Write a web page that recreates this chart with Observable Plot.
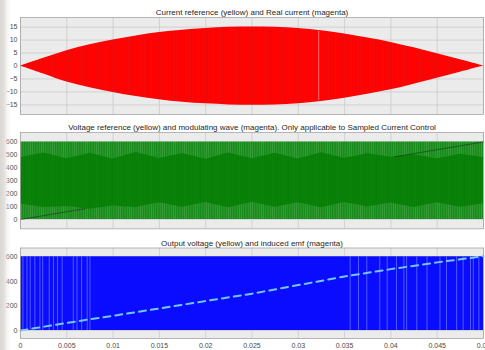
<!DOCTYPE html>
<html>
<head>
<meta charset="utf-8">
<script src="https://cdn.jsdelivr.net/npm/d3@7"></script>
<script src="https://cdn.jsdelivr.net/npm/@observablehq/plot@0.6"></script>
<style>
  html, body { margin: 0; padding: 0; background: #fff; }
  #scope { position: relative; width: 485px; height: 350px; overflow: hidden; background: #fff; }
  #scope svg { position: absolute; left: 0; }
  #edge {
    position: absolute; left: 0; top: 0; width: 12px; height: 350px; pointer-events: none;
    background: linear-gradient(to right, rgba(218,214,210,1) 0px, rgba(224,221,218,0.95) 4px,
                rgba(236,234,232,0.5) 7px, rgba(255,255,255,0) 11px);
  }
</style>
</head>
<body>
<div id="scope"><div id="edge"></div></div>
<script>
// Time axis shared by all three scope traces (seconds)
const xTicks = [0, 0.005, 0.01, 0.015, 0.02, 0.025, 0.03, 0.035, 0.04, 0.045, 0.05];
const tSpan = [0, 0.05];

// --- Panel 1: current envelope (A) ---
const currentTitle = "Current reference (yellow) and Real current (magenta)";
const currentT = [0, 0.0025, 0.005, 0.0075, 0.01, 0.0125, 0.015, 0.0175, 0.02, 0.0225, 0.025,
                  0.0275, 0.03, 0.0325, 0.035, 0.0375, 0.04, 0.0425, 0.045, 0.0475, 0.05];
const currentUpper = [0, 3.0, 5.9, 8.2, 10.0, 11.6, 12.9, 13.8, 14.5, 14.9, 15.0,
                      14.9, 14.5, 13.6, 12.3, 10.8, 9.1, 7.0, 4.7, 2.4, 0];
const currentLower = [0, -3.1, -6.2, -8.4, -10.2, -11.8, -13.0, -14.0, -14.6, -15.0, -15.1,
                      -15.0, -14.6, -13.7, -12.4, -10.9, -9.2, -7.0, -4.7, -2.4, 0];
const currentGap = [{t: 0.0322, lo: -13.4, hi: 13.4}];
const currentTicks = [-15, -10, -5, 0, 5, 10, 15];
const currentDomain = [-18.7, 18.7];

// --- Panel 2: voltage reference band and modulating ramp (V) ---
const voltageTitle = "Voltage reference (yellow) and modulating wave (magenta). Only applicable to Sampled Current Control";
const voltageBand = [0, 600];
const voltageT = currentT;
const voltageCoreHigh = [480, 515, 470, 512, 468, 518, 472, 510, 466, 514, 470,
                         512, 468, 516, 474, 508, 482, 500, 470, 505, 480];
const voltageCoreLow = [120, 92, 100, 80, 105, 92, 130, 95, 132, 90, 134,
                        94, 130, 90, 132, 96, 128, 92, 130, 95, 120];
const rampT = [0, 0.05];
const rampV = [0, 600];
const voltageTicks = [0, 100, 200, 300, 400, 500, 600];
const voltageDomain = [-72, 673];

// --- Panel 3: output voltage PWM band and induced emf (V) ---
const outputTitle = "Output voltage (yellow) and induced emf (magenta)";
const outputBand = [0, 600];
const outputGaps = [0.00026, 0.0007, 0.00105, 0.00155, 0.0021, 0.0024, 0.0031, 0.00356, 0.004, 0.0045,
                    0.0057, 0.0061, 0.0066, 0.0072, 0.0075,
                    0.0356, 0.0365, 0.0374, 0.0388, 0.0396, 0.0406, 0.0414, 0.0417, 0.0428, 0.0439,
                    0.0453, 0.046, 0.0471, 0.0478, 0.0486, 0.0489, 0.0495];
const emfT = [0, 0.005, 0.01, 0.015, 0.02, 0.025, 0.03, 0.035, 0.04, 0.045, 0.05];
const emfV = [0, 62, 120, 180, 240, 300, 370, 440, 500, 555, 605];
const outputTicks = [0, 200, 400, 600];
const outputDomain = [-65, 672];

const fmtTime = d => (d === 0 ? "0" : String(+d.toFixed(3)));
const font = "'Liberation Sans', Arial, Helvetica, sans-serif";

// The modulating ramp only shows where it leaves the dark core of the reference band:
// split it into the stretches that lie outside that core.
const rampAt = d3.scaleLinear().domain(rampT).range(rampV);
const coreLowAt = d3.scaleLinear().domain(voltageT).range(voltageCoreLow);
const coreHighAt = d3.scaleLinear().domain(voltageT).range(voltageCoreHigh);
const rampVisible = (() => {
  const out = [];
  let seg = 0, prev = false;
  for (const t of d3.ticks(tSpan[0], tSpan[1], 1000)) {
    const v = rampAt(t);
    const vis = v <= coreLowAt(t) || v >= coreHighAt(t);
    if (vis) { if (!prev) seg++; out.push({t, v, seg}); }
    prev = vis;
  }
  return out;
})();

// Stripe textures for the densely switching traces, one set per panel
const patternDefs = {
  current: `
    <pattern id="redTex" width="2.3" height="6" patternUnits="userSpaceOnUse">
      <rect width="2.3" height="6" fill="#ff0000"/>
      <rect x="1.5" width="0.5" height="6" fill="#f01212"/>
    </pattern>`,
  voltage: `
    <pattern id="greenTex" width="2.2" height="6" patternUnits="userSpaceOnUse">
      <rect width="2.2" height="6" fill="#17891a"/>
      <rect x="1.4" width="0.45" height="6" fill="#58b458"/>
    </pattern>
    <pattern id="greenCore" width="2.2" height="6" patternUnits="userSpaceOnUse">
      <rect width="2.2" height="6" fill="#077f07"/>
      <rect x="1.4" width="0.5" height="6" fill="#0e870e"/>
    </pattern>`
};

function scopePanel({top, height, marginTop, marginBottom, yDomain, yTicks, title, marks, showX, defs}) {
  const svg = Plot.plot({
    width: 485, height, marginTop, marginBottom, marginLeft: 20, marginRight: 2,
    style: {background: "transparent", overflow: "visible", fontFamily: font, fontSize: "7px"},
    x: {domain: tSpan, axis: null},
    y: {domain: yDomain, axis: null},
    marks: [
      Plot.frame({fill: "#ebebeb", stroke: null}),
      Plot.gridX(xTicks, {stroke: "#cbcbcb", strokeOpacity: 1, strokeWidth: 0.8}),
      Plot.gridY(yTicks, {stroke: "#cbcbcb", strokeOpacity: 1, strokeWidth: 0.8}),
      ...marks,
      Plot.frame({stroke: "#a6a6a6", strokeWidth: 0.8}),
      Plot.axisY(yTicks, {tickSize: 0, tickPadding: 3, fontSize: 7, fill: "#4a4a4a", label: null}),
      showX ? Plot.axisX(xTicks, {tickSize: 0, tickPadding: 5, fontSize: 7, fill: "#4a4a4a",
                                  tickFormat: fmtTime, label: null}) : null,
      Plot.text([title], {frameAnchor: "top", lineAnchor: "bottom", dy: -2.5,
                          fontSize: 8, fill: "#262626"})
    ]
  });
  svg.style.top = top + "px";
  if (defs) d3.select(svg).insert("defs", ":first-child").html(defs);
  const scope = document.getElementById("scope");
  scope.insertBefore(svg, document.getElementById("edge"));
}

// Current: dense switching waveform shown as its filled envelope
scopePanel({
  top: 0, height: 117, marginTop: 17, marginBottom: 3, defs: patternDefs.current,
  yDomain: currentDomain, yTicks: currentTicks, title: currentTitle,
  marks: [
    Plot.areaY(currentT, {x: d => d, y1: (d, i) => currentLower[i], y2: (d, i) => currentUpper[i],
                          fill: "url(#redTex)", curve: "catmull-rom"}),
    Plot.ruleX(currentGap, {x: "t", y1: "lo", y2: "hi", stroke: "#ff9c9c", strokeWidth: 0.7})
  ]
});

// Voltage reference: saturated band, darker core, and the visible parts of the ramp
scopePanel({
  top: 117, height: 114, marginTop: 15, marginBottom: 2.7, defs: patternDefs.voltage,
  yDomain: voltageDomain, yTicks: voltageTicks, title: voltageTitle,
  marks: [
    Plot.areaY(voltageT, {x: d => d, y1: voltageBand[0], y2: voltageBand[1], fill: "url(#greenTex)"}),
    Plot.areaY(voltageT, {x: d => d, y1: (d, i) => voltageCoreLow[i], y2: (d, i) => voltageCoreHigh[i],
                          fill: "url(#greenCore)"}),
    Plot.line(rampVisible, {x: "t", y: "v", z: "seg", stroke: "#17401a", strokeWidth: 1, strokeOpacity: 0.8})
  ]
});

// Output voltage: PWM band with visible pulse gaps, and the induced emf
scopePanel({
  top: 231, height: 119, marginTop: 16.5, marginBottom: 12,
  yDomain: outputDomain, yTicks: outputTicks, title: outputTitle, showX: true,
  marks: [
    Plot.areaY(tSpan, {x: d => d, y1: outputBand[0], y2: outputBand[1], fill: "#0a0cff"}),
    Plot.ruleX(outputGaps, {y1: outputBand[0], y2: outputBand[1], stroke: "#7480ff",
                            strokeWidth: 0.8, strokeOpacity: 0.85}),
    Plot.line(emfT, {x: d => d, y: (d, i) => emfV[i], stroke: "#74c6ff", strokeWidth: 2,
                     strokeDasharray: "7,5"})
  ]
});
</script>
</body>
</html>
